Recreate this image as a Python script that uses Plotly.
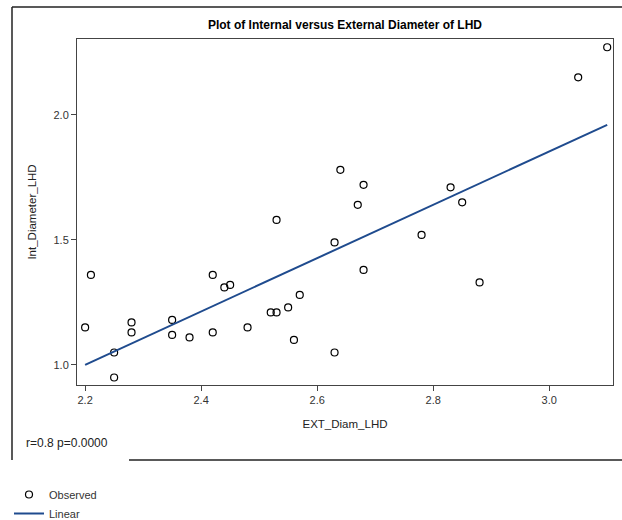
import numpy as np
import plotly.graph_objects as go

# Data
ext_diam = [2.20, 2.21, 2.25, 2.25, 2.28, 2.28, 2.35, 2.35, 2.38, 2.42, 2.42,
            2.44, 2.45, 2.48, 2.52, 2.53, 2.53, 2.55, 2.56, 2.57, 2.63, 2.63,
            2.64, 2.67, 2.68, 2.68, 2.78, 2.83, 2.85, 2.88, 3.05, 3.10]
int_diam = [1.15, 1.36, 1.05, 0.95, 1.17, 1.13, 1.18, 1.12, 1.11, 1.36, 1.13,
            1.31, 1.32, 1.15, 1.21, 1.21, 1.58, 1.23, 1.10, 1.28, 1.49, 1.05,
            1.78, 1.64, 1.72, 1.38, 1.52, 1.71, 1.65, 1.33, 2.15, 2.27]
x_ticks = [2.2, 2.4, 2.6, 2.8, 3.0]
x_tick_labels = ["2.2", "2.4", "2.6", "2.8", "3.0"]
y_ticks = [1.0, 1.5, 2.0]
y_tick_labels = ["1.0", "1.5", "2.0"]
stats_label = "r=0.8 p=0.0000"

# Linear fit
slope, intercept = np.polyfit(ext_diam, int_diam, 1)
fit_x = [min(ext_diam), max(ext_diam)]
fit_y = [intercept + slope * v for v in fit_x]

FONT = "Liberation Sans, Arial, sans-serif"

W, H = 622, 520
L, R, T, B = 77, 9, 39, 135
pw, ph = W - L - R, H - T - B


def px(xp):
    return (xp - L) / pw


def py(yp):
    return (H - B - yp) / ph


fig = go.Figure()
fig.add_trace(go.Scatter(
    x=ext_diam, y=int_diam, mode="markers", name="Observed",
    marker=dict(symbol="circle-open", size=7, color="black",
                line=dict(width=1.2, color="black")),
))
fig.add_trace(go.Scatter(
    x=fit_x, y=fit_y, mode="lines", name="Linear",
    line=dict(color="#1f4b8e", width=2),
))

axis_common = dict(
    showgrid=False, zeroline=False, showline=True, mirror=True,
    linecolor="#444444", linewidth=1, ticks="outside", ticklen=5,
    tickcolor="#444444", tickfont=dict(family=FONT, size=11, color="#333333"),
)

fig.update_layout(
    width=W, height=H,
    margin=dict(l=L, r=R, t=T, b=B, autoexpand=False),
    paper_bgcolor="white", plot_bgcolor="white",
    font=dict(family=FONT, color="#222222"),
    title=dict(text="<b>Plot of Internal versus External Diameter of LHD</b>",
               x=px(345), xref="paper", xanchor="center",
               y=1 - 25 / H, yanchor="middle",
               font=dict(family=FONT, size=12, color="black")),
    xaxis=dict(range=[2.186, 3.11], tickvals=x_ticks, ticktext=x_tick_labels,
               title=dict(text="EXT_Diam_LHD", standoff=14,
                          font=dict(family=FONT, size=11.5, color="#222222")),
               **axis_common),
    yaxis=dict(range=[0.92, 2.303], tickvals=y_ticks, ticktext=y_tick_labels,
               title=dict(text="Int_Diameter_LHD", standoff=14,
                          font=dict(family=FONT, size=11.5, color="#222222")),
               **axis_common),
    showlegend=True,
    legend=dict(x=px(9), y=py(480), xanchor="left", yanchor="top",
                xref="paper", yref="paper",
                font=dict(family=FONT, size=11, color="#333333"),
                bgcolor="rgba(0,0,0,0)", tracegroupgap=0, itemwidth=30),
    annotations=[
        dict(text=stats_label, x=px(24), y=py(443), xref="paper", yref="paper",
             xanchor="left", yanchor="middle", showarrow=False,
             font=dict(family=FONT, size=12, color="#222222")),
    ],
    shapes=[
        dict(type="line", xref="paper", yref="paper",
             x0=px(12), x1=px(12), y0=py(7), y1=py(460),
             line=dict(color="#222222", width=1.5)),
        dict(type="line", xref="paper", yref="paper",
             x0=px(12), x1=px(622), y0=py(7), y1=py(7),
             line=dict(color="#222222", width=1.5)),
        dict(type="line", xref="paper", yref="paper",
             x0=px(129), x1=px(622), y0=py(460), y1=py(460),
             line=dict(color="#222222", width=1.5)),
    ],
)

fig.write_html(
    "out.html",
    config={"displayModeBar": False},
    post_script="document.body.style.margin='0';document.body.style.overflow='hidden';",
)
